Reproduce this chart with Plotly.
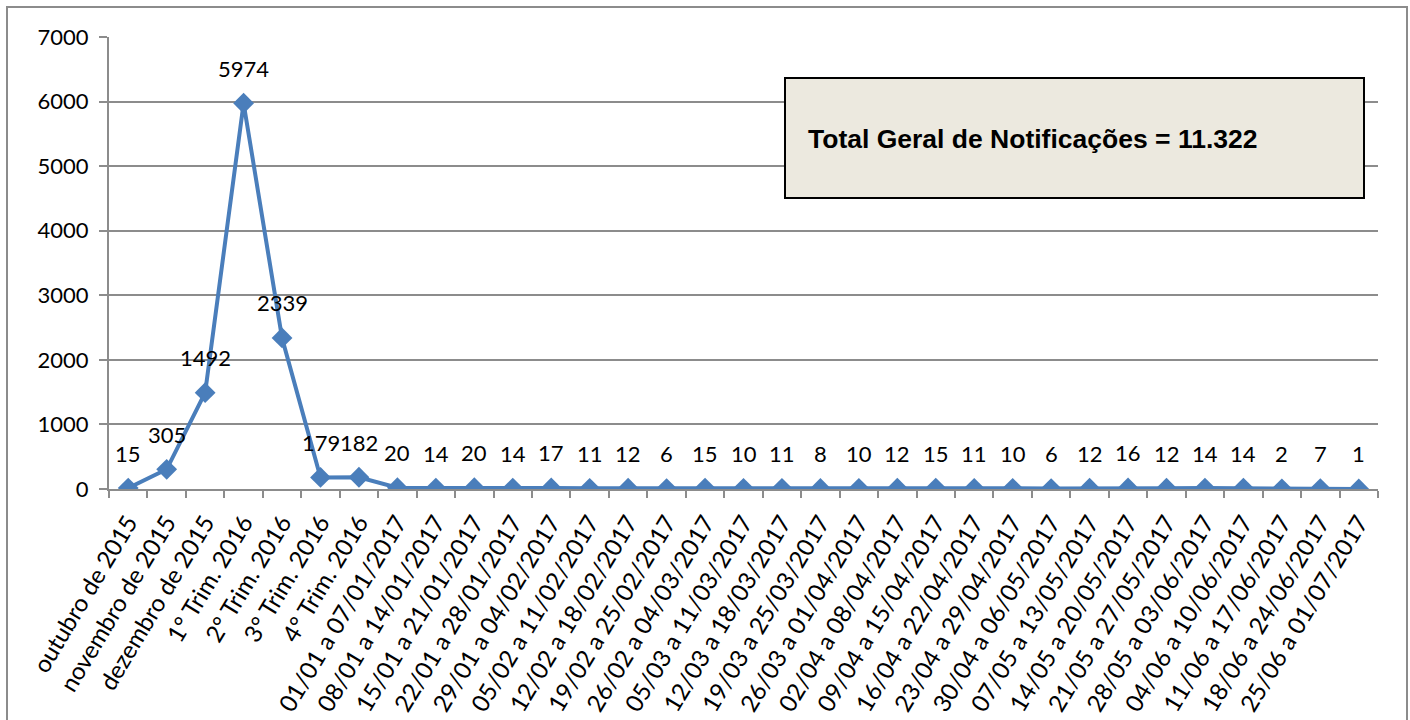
import plotly.graph_objects as go

categories = [
    "outubro de 2015", "novembro de 2015", "dezembro de 2015",
    "1° Trim. 2016", "2° Trim. 2016", "3° Trim. 2016", "4° Trim. 2016",
    "01/01 a 07/01/2017", "08/01 a 14/01/2017", "15/01 a 21/01/2017",
    "22/01 a 28/01/2017", "29/01 a 04/02/2017", "05/02 a 11/02/2017",
    "12/02 a 18/02/2017", "19/02 a 25/02/2017", "26/02 a 04/03/2017",
    "05/03 a 11/03/2017", "12/03 a 18/03/2017", "19/03 a 25/03/2017",
    "26/03 a 01/04/2017", "02/04 a 08/04/2017", "09/04 a 15/04/2017",
    "16/04 a 22/04/2017", "23/04 a 29/04/2017", "30/04 a 06/05/2017",
    "07/05 a 13/05/2017", "14/05 a 20/05/2017", "21/05 a 27/05/2017",
    "28/05 a 03/06/2017", "04/06 a 10/06/2017", "11/06 a 17/06/2017",
    "18/06 a 24/06/2017", "25/06 a 01/07/2017",
]
values = [15, 305, 1492, 5974, 2339, 179, 182, 20, 14, 20, 14, 17, 11, 12, 6,
          15, 10, 11, 8, 10, 12, 15, 11, 10, 6, 12, 16, 12, 14, 14, 2, 7, 1]
y_ticks = [0, 1000, 2000, 3000, 4000, 5000, 6000, 7000]
total_text = "Total Geral de Notificações = 11.322"

BLUE = "#4A7EBB"
GRID = "#8C8C8C"
FONT = "Lato"

fig = go.Figure()
fig.add_trace(go.Scatter(
    x=categories, y=values, mode="lines+markers",
    line=dict(color=BLUE, width=4),
    marker=dict(symbol="diamond", size=16, color=BLUE),
    showlegend=False, hoverinfo="x+y",
))

for c, v in zip(categories, values):
    fig.add_annotation(x=c, y=v, text=str(v), showarrow=False,
                       yshift=35, font=dict(family=FONT, size=22, color="#000"))

W, H = 1410, 720
L, R, T, B = 109, W - 1378, 37, H - 489
pw, ph = W - L - R, H - T - B

def px_x(p):
    return (p - L) / pw

def px_y(p):
    return (H - B - p) / ph

# outer chart frame
fig.add_shape(type="rect", xref="paper", yref="paper",
              x0=px_x(7), x1=px_x(1407), y0=px_y(740), y1=px_y(7),
              line=dict(color="#8C8C8C", width=2), fillcolor="rgba(0,0,0,0)",
              layer="below")
# total box
fig.add_shape(type="rect", xref="paper", yref="paper",
              x0=px_x(785), x1=px_x(1364), y0=px_y(198), y1=px_y(78),
              line=dict(color="#000000", width=2), fillcolor="#ECE9DF")
fig.add_annotation(xref="paper", yref="paper", x=px_x(806), y=px_y(139),
                   xanchor="left", yanchor="middle", showarrow=False,
                   text="<b>" + total_text + "</b>",
                   font=dict(family="Arial, Liberation Sans, sans-serif", size=26.5, color="#000"))

fig.update_layout(
    width=W, height=H,
    margin=dict(l=L, r=R, t=T, b=B, autoexpand=False),
    paper_bgcolor="white", plot_bgcolor="white",
    font=dict(family=FONT, size=22, color="#000"),
    xaxis=dict(
        type="category", tickangle=-59, tickson="boundaries",
        ticks="outside", ticklen=7, tickcolor=GRID, tickwidth=2,
        showline=True, linecolor=GRID, linewidth=2,
        showgrid=False, tickfont=dict(family=FONT, size=24),
        ticklabelstandoff=8,
        automargin=False, range=[-0.5, len(categories) - 0.5],
    ),
    yaxis=dict(
        range=[0, 7000], tickvals=y_ticks, ticktext=[str(t) for t in y_ticks],
        ticks="outside", ticklen=8, tickcolor=GRID, tickwidth=2,
        showline=True, linecolor=GRID, linewidth=2,
        showgrid=True, gridcolor=GRID, gridwidth=2,
        zeroline=False, tickfont=dict(family=FONT, size=22),
        ticklabelstandoff=6,
        automargin=False,
    ),
)

fig.write_html("out.html", config={"displayModeBar": False},
               post_script="document.body.style.margin='0';document.body.style.overflow='hidden';")
